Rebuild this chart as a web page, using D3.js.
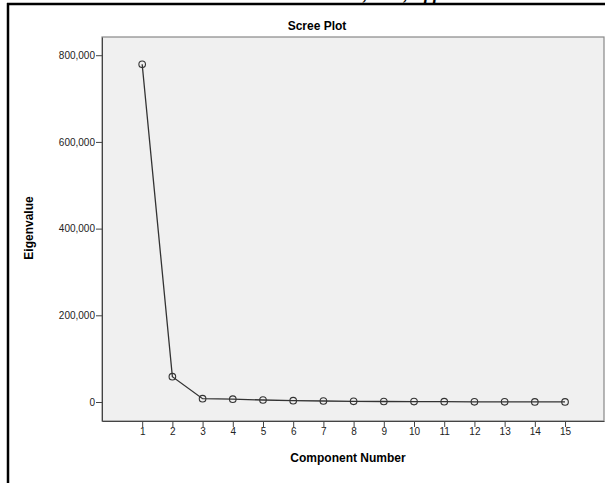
<!DOCTYPE html>
<html>
<head>
<meta charset="utf-8">
<script src="https://cdn.jsdelivr.net/npm/d3@7"></script>
<style>
  body { margin: 0; background: #fff; }
  svg { display: block; font-family: Arial, "Liberation Sans", sans-serif; }
</style>
</head>
<body>
<svg id="chart" width="605" height="483"></svg>
<script>
// data
let components = [1, 2, 3, 4, 5, 6, 7, 8, 9, 10, 11, 12, 13, 14, 15]
let eigenvalues = [779000, 58400, 7600, 6600, 4600, 3000, 2300, 1500, 1200, 900, 700, 500, 400, 300, 200]
let yTicks = [0, 200000, 400000, 600000, 800000]

let svg = d3.select("#chart")

let plot = { left: 102, right: 604, top: 37, bottom: 421 }

// page frame (cut off piece of a document)
svg.append("text")
    .attr("x", 196).attr("y", 0)
    .style("font", "italic bold 18px 'Liberation Serif', serif")
    .text("Chandra Sekhara Rao, et al, Applied Statistics")
svg.append("line").attr("x1", 7).attr("x2", 605).attr("y1", 4).attr("y2", 4)
    .attr("stroke", "#000").attr("stroke-width", 2.5)
svg.append("line").attr("x1", 8).attr("x2", 8).attr("y1", 3).attr("y2", 483)
    .attr("stroke", "#000").attr("stroke-width", 2.5)

// scales
let xScale = d3.scaleLinear().domain([-0.33, 16.29]).range([plot.left, plot.right])
let yScale = d3.scaleLinear().domain([-43800, 842000]).range([plot.bottom, plot.top])

// plot background
svg.append("rect")
    .attr("x", plot.left).attr("y", plot.top)
    .attr("width", plot.right - plot.left).attr("height", plot.bottom - plot.top)
    .attr("fill", "#f0f0f0").attr("stroke", "#888").attr("stroke-width", 1.2)

// axes
let xAxis = d3.axisBottom(xScale).tickValues(components).tickSize(6).tickSizeOuter(0)
let xg = svg.append("g").attr("transform", `translate(0,${plot.bottom})`).call(xAxis)
xg.attr("font-size", 10).attr("font-family", null)
xg.select(".domain").attr("stroke", "#444")
xg.selectAll(".tick line").attr("stroke", "#444")
xg.selectAll(".tick text").attr("y", 7).attr("fill", "#222")

let yAxis = d3.axisLeft(yScale).tickValues(yTicks).tickSize(6).tickSizeOuter(0)
    .tickFormat(d3.format(","))
let yg = svg.append("g").attr("transform", `translate(${plot.left},0)`).call(yAxis)
yg.attr("font-size", 10).attr("font-family", null)
yg.select(".domain").attr("stroke", "#444")
yg.selectAll(".tick line").attr("stroke", "#444")
yg.selectAll(".tick text").attr("x", -7).attr("fill", "#222")

// line and markers
let line = d3.line().x((d, i) => xScale(components[i])).y(d => yScale(d))
svg.append("path")
    .datum(eigenvalues)
    .attr("d", line)
    .attr("fill", "none")
    .attr("stroke", "#333")
    .attr("stroke-width", 1.3)

svg.append("g")
    .selectAll("circle")
    .data(eigenvalues)
    .join("circle")
    .attr("cx", (d, i) => xScale(components[i]))
    .attr("cy", d => yScale(d))
    .attr("r", 3.3)
    .attr("fill", "none")
    .attr("stroke", "#333")
    .attr("stroke-width", 1.1)

// titles
svg.append("text")
    .attr("x", 317).attr("y", 30)
    .attr("text-anchor", "middle")
    .style("font-size", "12px").style("font-weight", "bold")
    .text("Scree Plot")

svg.append("text")
    .attr("x", 348).attr("y", 462)
    .attr("text-anchor", "middle")
    .style("font-size", "12px").style("font-weight", "bold")
    .text("Component Number")

svg.append("text")
    .attr("transform", "translate(33,228) rotate(-90)")
    .attr("text-anchor", "middle")
    .style("font-size", "12px").style("font-weight", "bold")
    .text("Eigenvalue")
</script>
</body>
</html>
